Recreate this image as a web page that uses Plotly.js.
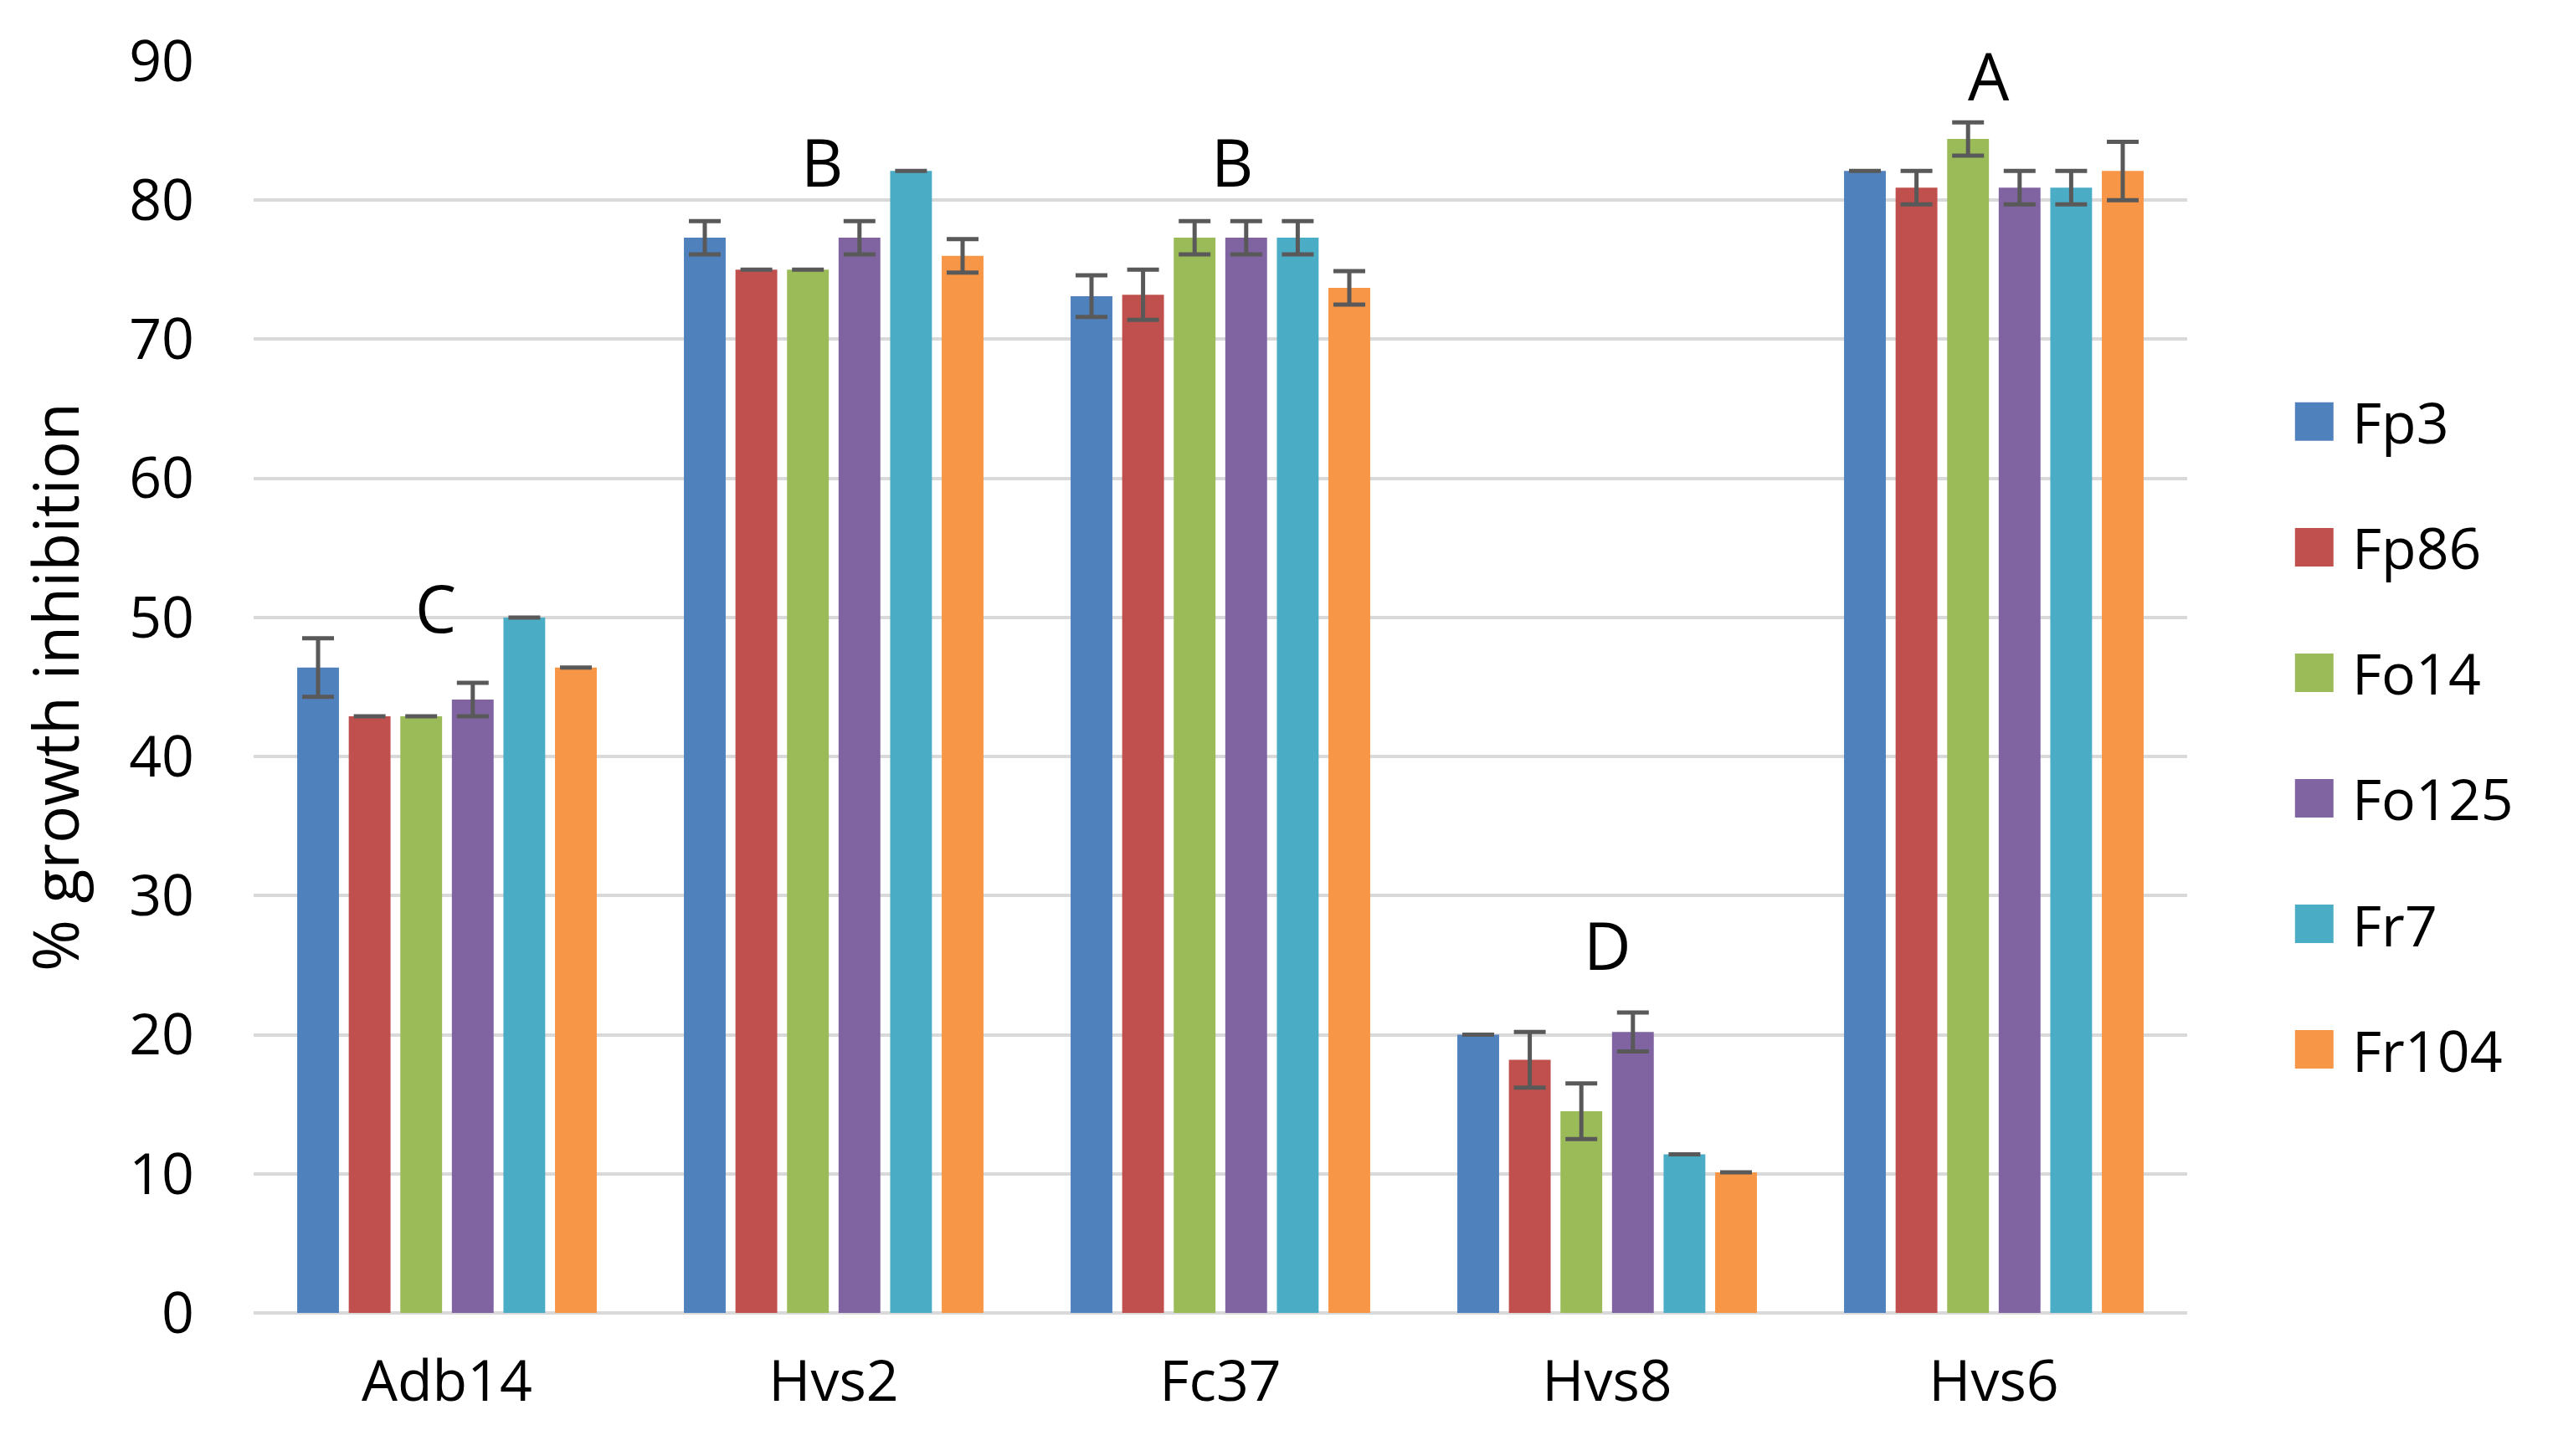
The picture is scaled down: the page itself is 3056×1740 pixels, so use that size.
<!DOCTYPE html>
<html>
<head>
<meta charset="utf-8">
<script src="https://cdn.plot.ly/plotly-3.0.1.min.js"></script>
<style>html,body{margin:0;padding:0;background:#fff;}#chart{width:3056px;height:1740px;}</style>
</head>
<body>
<div id="chart"></div>
<script>
// ---- data ----
const categories = ["Adb14", "Hvs2", "Fc37", "Hvs8", "Hvs6"];
const seriesNames = ["Fp3", "Fp86", "Fo14", "Fo125", "Fr7", "Fr104"];
const seriesColors = ["#4F81BD", "#C0504D", "#9BBB59", "#8064A2", "#4BACC6", "#F79646"];

const fp3   = [46.4, 77.3, 73.1, 20.0, 82.1];
const fp86  = [42.9, 75.0, 73.2, 18.2, 80.9];
const fo14  = [42.9, 75.0, 77.3, 14.5, 84.4];
const fo125 = [44.1, 77.3, 77.3, 20.2, 80.9];
const fr7   = [50.0, 82.1, 77.3, 11.4, 80.9];
const fr104 = [46.4, 76.0, 73.7, 10.1, 82.1];

const fp3Err   = [2.1, 1.2, 1.5, 0, 0];
const fp86Err  = [0, 0, 1.8, 2.0, 1.2];
const fo14Err  = [0, 0, 1.2, 2.0, 1.2];
const fo125Err = [1.2, 1.2, 1.2, 1.4, 1.2];
const fr7Err   = [0, 0, 1.2, 0, 1.2];
const fr104Err = [0, 1.2, 1.2, 0, 2.1];

const groupLetters = ["C", "B", "B", "D", "A"];
const letterHeights = [50.7, 82.8, 82.8, 26.5, 89.0];

const yTickVals = [0, 10, 20, 30, 40, 50, 60, 70, 80, 90];
const yTickText = ["0", "10", "20", "30", "40", "50", "60", "70", "80", "90"];
const yTitle = "% growth inhibition";

// ---- build ----
const values = [fp3, fp86, fo14, fo125, fr7, fr104];
const errors = [fp3Err, fp86Err, fo14Err, fo125Err, fr7Err, fr104Err];
const FONT = "Open Sans, Noto Sans, sans-serif";

const traces = seriesNames.map((name, i) => ({
  type: "bar",
  name: name,
  x: categories,
  y: values[i],
  marker: { color: seriesColors[i], line: { width: 0 } },
  error_y: { type: "data", array: errors[i], visible: true, color: "#595959", thickness: 5, width: 19 },
  showlegend: false,
  hoverinfo: "x+y+name"
}));

const letterShift = [-14, -14, 14, 0, -6];
const annotations = groupLetters.map((t, i) => ({
  x: categories[i], y: letterHeights[i], xref: "x", yref: "y",
  text: t, showarrow: false, xshift: letterShift[i],
  font: { family: FONT, size: 78, color: "#000" }
}));

// custom legend with larger swatches (layout only)
const shapes = [];
const legTop = 0.712, legStep = 0.1003;
seriesNames.forEach((name, i) => {
  const py = legTop - i * legStep;
  shapes.push({
    type: "rect", xref: "paper", yref: "paper",
    xsizemode: "pixel", ysizemode: "pixel",
    xanchor: 1.0657, yanchor: py,
    x0: -23, x1: 23, y0: -23, y1: 23,
    fillcolor: seriesColors[i], line: { width: 0 }
  });
  annotations.push({
    x: 1.0844, y: py, xref: "paper", yref: "paper",
    xanchor: "left", yanchor: "middle", showarrow: false,
    text: name, font: { family: FONT, size: 68, color: "#000" }
  });
});

const layout = {
  width: 3056, height: 1740,
  margin: { l: 303, r: 443, t: 73, b: 171 },
  paper_bgcolor: "#fff", plot_bgcolor: "#fff",
  font: { family: FONT, color: "#000" },
  barmode: "group", bargap: 0.2, bargroupgap: 0.19,
  xaxis: {
    type: "category", showgrid: false, showline: false, ticks: "",
    tickfont: { family: FONT, size: 68, color: "#000" },
    ticklabelstandoff: 36
  },
  yaxis: {
    range: [0, 90], tickvals: yTickVals, ticktext: yTickText,
    showgrid: true, gridcolor: "#D9D9D9", gridwidth: 4,
    zeroline: true, zerolinecolor: "#D9D9D9", zerolinewidth: 4,
    showline: false, ticks: "",
    tickfont: { family: FONT, size: 68, color: "#000" },
    ticklabelstandoff: 70,
    title: { text: yTitle, font: { family: FONT, size: 75, color: "#000" }, standoff: 34 }
  },
  annotations: annotations,
  shapes: shapes
};

Plotly.newPlot("chart", traces, layout, { displayModeBar: false, staticPlot: true });
</script>
</body>
</html>
